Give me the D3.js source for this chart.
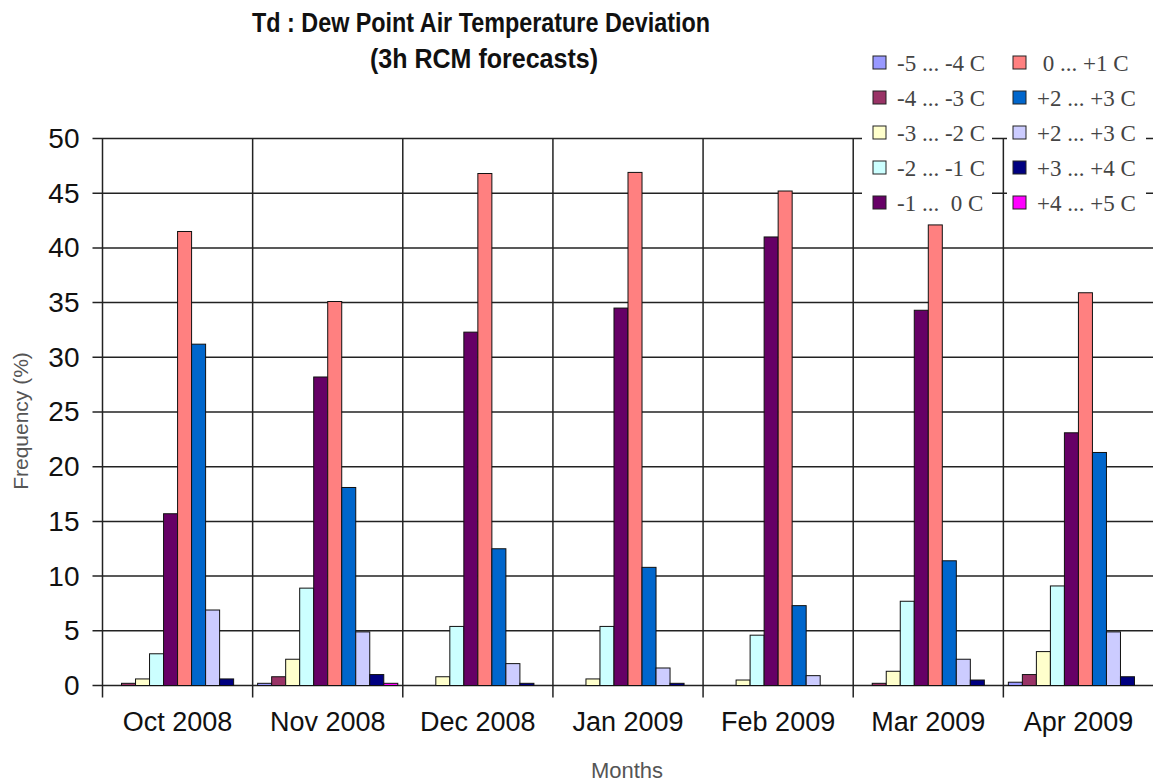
<!DOCTYPE html>
<html><head><meta charset="utf-8">
<script src="https://cdn.jsdelivr.net/npm/d3@7"></script>
<style>html,body{margin:0;padding:0;background:#fff;overflow:hidden}text{white-space:pre}</style>
</head><body>
<svg id="c" width="1153" height="783"></svg>
<script>
const months = ["Oct 2008","Nov 2008","Dec 2008","Jan 2009","Feb 2009","Mar 2009","Apr 2009"];
const seriesNames = ["-5 ... -4 C","-4 ... -3 C","-3 ... -2 C","-2 ... -1 C","-1 ...  0 C"," 0 ... +1 C","+2 ... +3 C","+2 ... +3 C","+3 ... +4 C","+4 ... +5 C"];
const seriesColors = ["#9999FF","#993366","#FFFFCC","#CCFFFF","#660066","#FF8080","#0066CC","#CCCCFF","#000080","#FF00FF"];
const s_m5_m4 = [0, 0.2, 0, 0, 0, 0, 0.3];
const s_m4_m3 = [0.2, 0.8, 0, 0, 0, 0.2, 1.0];
const s_m3_m2 = [0.6, 2.4, 0.8, 0.6, 0.5, 1.3, 3.1];
const s_m2_m1 = [2.9, 8.9, 5.4, 5.4, 4.6, 7.7, 9.1];
const s_m1_0  = [15.7, 28.2, 32.3, 34.5, 41.0, 34.3, 23.1];
const s_0_p1  = [41.5, 35.1, 46.8, 46.9, 45.2, 42.1, 35.9];
const s_p2_p3a = [31.2, 18.1, 12.5, 10.8, 7.3, 11.4, 21.3];
const s_p2_p3b = [6.9, 4.9, 2.0, 1.6, 0.9, 2.4, 4.9];
const s_p3_p4 = [0.6, 1.0, 0.2, 0.2, 0, 0.5, 0.8];
const s_p4_p5 = [0, 0.2, 0, 0, 0, 0, 0];
const yTicks = [0,5,10,15,20,25,30,35,40,45,50];

const seriesValues = [s_m5_m4,s_m4_m3,s_m3_m2,s_m2_m1,s_m1_0,s_0_p1,s_p2_p3a,s_p2_p3b,s_p3_p4,s_p4_p5];

const svg = d3.select("#c");
const L = 102.5, R = 1153.5, T = 138.5, B = 685.5;
const x0 = d3.scaleBand().domain(months).range([L, R]).padding(0);
const x1 = d3.scaleBand().domain(d3.range(10)).range([5, x0.bandwidth()-5]).padding(0);
const y = d3.scaleLinear().domain([0,50]).range([B, T]);
const lineCol = "#222";

// horizontal gridlines
const g = svg.append("g");
g.selectAll("line.h").data(yTicks).join("line")
  .attr("x1", L - 10).attr("x2", R).attr("y1", d => y(d)).attr("y2", d => y(d))
  .attr("stroke", lineCol).attr("stroke-width", 1.5);
// vertical gridlines at category boundaries
const bounds = months.map(m => x0(m));
g.selectAll("line.v").data(bounds).join("line")
  .attr("x1", d => d).attr("x2", d => d).attr("y1", T).attr("y2", B + 12)
  .attr("stroke", lineCol).attr("stroke-width", 1.5);

// bars
const bars = svg.append("g");
months.forEach((m, mi) => {
  bars.selectAll(null).data(seriesValues.map((s, si) => ({si, v: s[mi]})).filter(d => d.v > 0)).join("rect")
    .attr("x", d => x0(m) + x1(d.si))
    .attr("width", x1.bandwidth())
    .attr("y", d => y(d.v))
    .attr("height", d => y(0) - y(d.v))
    .attr("fill", d => seriesColors[d.si])
    .attr("stroke", "#111").attr("stroke-width", 1);
});

// y axis labels
const yAxis = d3.axisLeft(y).tickValues(yTicks).tickSize(0).tickPadding(23);
const ya = svg.append("g").attr("transform", `translate(${L},0)`).call(yAxis);
ya.select(".domain").remove();
ya.selectAll("text").attr("font-family", "Arial, 'Liberation Sans', sans-serif").attr("font-size", 28).attr("fill", "#111");

// x axis labels
const xAxis = d3.axisBottom(x0).tickSize(0).tickPadding(26);
const xa = svg.append("g").attr("transform", `translate(0,${B})`).call(xAxis);
xa.select(".domain").remove();
xa.selectAll("text").attr("font-family", "Arial, 'Liberation Sans', sans-serif").attr("font-size", 27).attr("fill", "#111");

// axis titles
svg.append("text").attr("transform", "translate(28,421) rotate(-90)").attr("text-anchor", "middle")
  .attr("font-family", "Arial, 'Liberation Sans', sans-serif").attr("font-size", 21).attr("fill", "#555").text("Frequency (%)");
svg.append("text").attr("x", 627).attr("y", 778).attr("text-anchor", "middle")
  .attr("font-family", "Arial, 'Liberation Sans', sans-serif").attr("font-size", 22).attr("fill", "#555").text("Months");

// title
svg.append("text").attr("x", 481).attr("y", 32).attr("text-anchor", "middle")
  .attr("font-family", "Arial, 'Liberation Sans', sans-serif").attr("font-weight", "bold").attr("font-size", 27)
  .attr("textLength", 458).attr("lengthAdjust", "spacingAndGlyphs").attr("fill", "#111")
  .text("Td : Dew Point Air Temperature Deviation");
svg.append("text").attr("x", 484).attr("y", 68).attr("text-anchor", "middle")
  .attr("font-family", "Arial, 'Liberation Sans', sans-serif").attr("font-weight", "bold").attr("font-size", 27)
  .attr("textLength", 228).attr("lengthAdjust", "spacingAndGlyphs").attr("fill", "#111")
  .text("(3h RCM forecasts)");

// legend
const leg = svg.append("g");
seriesNames.forEach((name, i) => {
  const col = Math.floor(i / 5), row = i % 5;
  const gx = 862 + col * 140, gy = 63 + row * 35;
  const it = leg.append("g").attr("transform", `translate(${gx},${gy})`);
  it.append("rect").attr("x", col ? 5 : 0).attr("y", -16).attr("width", col ? 139 : 130).attr("height", 32).attr("fill", "#fff");
  it.append("rect").attr("x", 11).attr("y", -7).attr("width", 13).attr("height", 13)
    .attr("fill", seriesColors[i]).attr("stroke", "#222").attr("stroke-width", 1);
  it.append("text").attr("x", 35).attr("y", 8).attr("font-family", "'Liberation Serif', 'Times New Roman', serif")
    .attr("font-size", 23).attr("fill", "#444").text(name);
});
</script>
</body></html>
